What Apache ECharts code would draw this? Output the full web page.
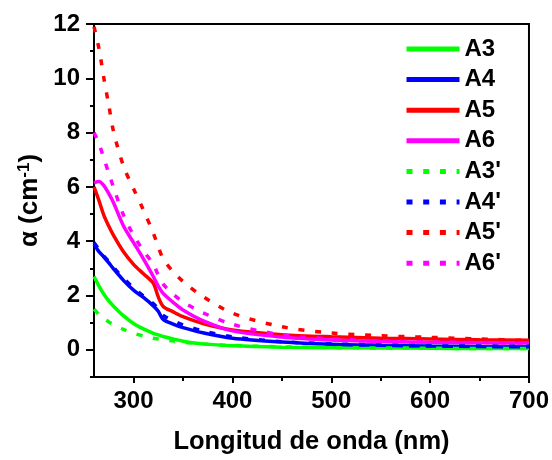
<html>
<head>
  <meta charset="utf-8">
  <script src="https://cdn.jsdelivr.net/npm/echarts@6/dist/echarts.min.js"></script>
</head>
<body style="margin:0">
<div id="container" style="width:552px;height:460px"></div>
<script>
  // wavelength (nm) shared by every curve
  const wavelength = [260, 265, 270, 275, 280, 290, 300, 310, 320, 325, 330, 340, 350, 370, 400, 450, 500, 550, 600, 650, 700];

  const A3  = [2.70, 2.35, 2.05, 1.80, 1.60, 1.25, 0.97, 0.77, 0.61, 0.55, 0.49, 0.40, 0.32, 0.22, 0.15, 0.10, 0.08, 0.07, 0.06, 0.05, 0.05];
  const A4  = [3.88, 3.62, 3.42, 3.20, 2.97, 2.55, 2.20, 1.93, 1.62, 1.42, 1.12, 0.95, 0.82, 0.63, 0.43, 0.29, 0.21, 0.17, 0.14, 0.12, 0.11];
  const A5  = [6.00, 5.50, 4.95, 4.55, 4.20, 3.60, 3.15, 2.80, 2.45, 1.95, 1.60, 1.40, 1.22, 0.97, 0.73, 0.56, 0.48, 0.43, 0.40, 0.37, 0.35];
  const A6  = [6.15, 6.20, 6.05, 5.75, 5.40, 4.55, 3.95, 3.35, 2.70, 2.35, 2.08, 1.75, 1.47, 1.08, 0.70, 0.47, 0.36, 0.31, 0.28, 0.26, 0.25];
  const A3p = [1.50, 1.30, 1.15, 1.03, 0.93, 0.75, 0.61, 0.51, 0.43, 0.40, 0.37, 0.33, 0.28, 0.22, 0.16, 0.11, 0.08, 0.07, 0.06, 0.05, 0.05];
  const A4p = [3.95, 3.70, 3.45, 3.25, 3.03, 2.63, 2.28, 1.98, 1.70, 1.50, 1.27, 1.07, 0.92, 0.70, 0.48, 0.30, 0.22, 0.18, 0.15, 0.14, 0.13];
  const A5p = [11.9, 11.1, 10.0, 9.00, 8.00, 6.75, 5.93, 5.15, 4.30, 3.80, 3.35, 2.88, 2.52, 1.97, 1.35, 0.85, 0.62, 0.52, 0.46, 0.40, 0.34];
  const A6p = [8.00, 7.60, 7.05, 6.50, 5.95, 4.95, 4.22, 3.65, 3.15, 2.75, 2.42, 2.05, 1.77, 1.37, 0.94, 0.55, 0.40, 0.33, 0.29, 0.27, 0.25];

  const xTicks = [300, 400, 500, 600, 700];
  const xMinor = [350, 450, 550, 650];
  const yTicks = [0, 2, 4, 6, 8, 10, 12];
  const yMinor = [-1, 1, 3, 5, 7, 9, 11];

  const names  = ['A3', 'A4', 'A5', 'A6', "A3'", "A4'", "A5'", "A6'"];
  const values = [A3, A4, A5, A6, A3p, A4p, A5p, A6p];
  const colors = ['#00ff00', '#0000ff', '#ff0000', '#ff00ff', '#00ff00', '#0000ff', '#ff0000', '#ff00ff'];

  const FONT = 'Arial, "Liberation Sans", sans-serif';

  function pairs(ys) {
    return wavelength.map((x, i) => [x, ys[i]]);
  }

  function buildSerials(i) {
    const dashed = i >= 4;
    return {
      name: names[i],
      type: 'line',
      data: pairs(values[i]),
      symbol: 'none',
      smooth: 0.3,
      color: colors[i],
      lineStyle: {
        color: colors[i],
        width: 3.5,
        type: dashed ? [6, 10.7] : 'solid'
      }
    };
  }

  const lineBlack = { color: '#000', width: 2 };

  let mychart = echarts.init(document.getElementById('container'));

  var option = {
    animation: false,
    textStyle: { fontFamily: FONT },
    grid: {
      left: 94, right: 23, top: 24, bottom: 81,
      show: true, borderColor: '#000', borderWidth: 2
    },
    legend: {
      orient: 'vertical',
      left: 399,
      top: 32,
      itemWidth: 53,
      itemHeight: 14,
      itemGap: 6.6,
      itemStyle: { color: 'transparent', borderWidth: 0, opacity: 0 },
      lineStyle: { width: 5 },
      textStyle: { fontFamily: FONT, fontWeight: 'bold', fontSize: 24, color: '#000', lineHeight: 24 },
      data: names
    },
    xAxis: [
      {
        type: 'value', min: 260, max: 700,
        splitLine: { show: false },
        axisLine: { onZero: false, lineStyle: lineBlack },
        name: 'Longitud de onda (nm)',
        nameLocation: 'middle',
        nameGap: 52,
        nameTextStyle: { fontFamily: FONT, fontWeight: 'bold', fontSize: 25.5, color: '#000' },
        axisTick: { customValues: xTicks, length: 6, lineStyle: lineBlack },
        axisLabel: { customValues: xTicks, margin: 12, fontFamily: FONT, fontWeight: 'bold', fontSize: 24, color: '#000' }
      },
      {
        type: 'value', min: 260, max: 700,
        position: 'bottom',
        splitLine: { show: false },
        axisLine: { show: false, onZero: false },
        axisTick: { customValues: xMinor, length: 4, lineStyle: lineBlack },
        axisLabel: { show: false }
      }
    ],
    yAxis: [
      {
        type: 'value', min: -1, max: 12,
        splitLine: { show: false },
        axisLine: { onZero: false, lineStyle: lineBlack },
        name: '{a|α (cm}{s|-1}{a|)}',
        nameLocation: 'middle',
        nameGap: 48,
        nameTextStyle: {
          rich: {
            a: { fontFamily: FONT, fontWeight: 'bold', fontSize: 26, color: '#000' },
            s: { fontFamily: FONT, fontWeight: 'bold', fontSize: 17, color: '#000', verticalAlign: 'top', padding: [0, 0, 10, 0] }
          }
        },
        axisTick: { customValues: yTicks, length: 8, lineStyle: lineBlack },
        axisLabel: { customValues: yTicks, margin: 14, fontFamily: FONT, fontWeight: 'bold', fontSize: 24, color: '#000' }
      },
      {
        type: 'value', min: -1, max: 12,
        position: 'left',
        splitLine: { show: false },
        axisLine: { show: false, onZero: false },
        axisTick: { customValues: yMinor, length: 4, lineStyle: lineBlack },
        axisLabel: { show: false }
      }
    ],
    series: []
  };

  names.forEach((n, i) => option.series.push(buildSerials(i)));

  mychart.setOption(option);
</script>
</body>
</html>
